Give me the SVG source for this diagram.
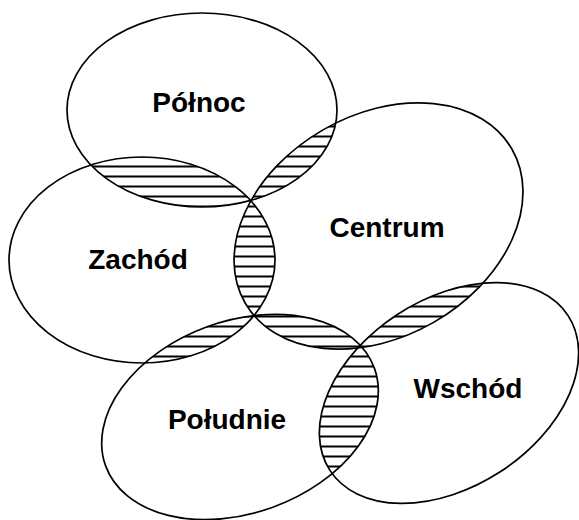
<svg xmlns="http://www.w3.org/2000/svg" xmlns:xlink="http://www.w3.org/1999/xlink" width="579" height="520" viewBox="0 0 579 520">
<style>
.outline{fill:none;stroke:#000;stroke-width:1.7}
.lens{fill:url(#hatch);stroke:none}
.lbl{font-family:"Liberation Sans",Arial,sans-serif;font-weight:bold;font-size:28px;fill:#000;text-anchor:middle}
</style>
<defs>
<pattern id="hatch" patternUnits="userSpaceOnUse" x="0" y="0" width="40" height="10">
<rect width="40" height="10" fill="#fff"/>
<line x1="0" y1="6.5" x2="40" y2="6.5" stroke="#000" stroke-width="2"/>
</pattern>
<ellipse id="eN" cx="202" cy="110" rx="135" ry="97"/>
<ellipse id="eZ" cx="142" cy="260" rx="133" ry="103"/>
<ellipse id="eC" cx="378.5" cy="226" rx="154" ry="111" transform="rotate(-30 378.5 226)"/>
<ellipse id="eP" cx="240" cy="417" rx="143" ry="96" transform="rotate(-20 240 417)"/>
<ellipse id="eW" cx="449" cy="393" rx="142" ry="94" transform="rotate(-33 449 393)"/>
<clipPath id="cN"><use xlink:href="#eN"/></clipPath>
<clipPath id="cZ"><use xlink:href="#eZ"/></clipPath>
<clipPath id="cC"><use xlink:href="#eC"/></clipPath>
<clipPath id="cP"><use xlink:href="#eP"/></clipPath>
<clipPath id="cW"><use xlink:href="#eW"/></clipPath>
<rect id="hfill" x="0" y="0" width="579" height="520" class="lens"/>
</defs>
<rect width="579" height="520" fill="#fff"/>
<g id="overlaps">
<g clip-path="url(#cN)"><g clip-path="url(#cZ)"><use xlink:href="#hfill"/></g></g>
<g clip-path="url(#cN)"><g clip-path="url(#cC)"><use xlink:href="#hfill"/></g></g>
<g clip-path="url(#cZ)"><g clip-path="url(#cC)"><use xlink:href="#hfill"/></g></g>
<g clip-path="url(#cZ)"><g clip-path="url(#cP)"><use xlink:href="#hfill"/></g></g>
<g clip-path="url(#cC)"><g clip-path="url(#cP)"><use xlink:href="#hfill"/></g></g>
<g clip-path="url(#cC)"><g clip-path="url(#cW)"><use xlink:href="#hfill"/></g></g>
<g clip-path="url(#cP)"><g clip-path="url(#cW)"><use xlink:href="#hfill"/></g></g>
</g>
<g id="polnoc"><use xlink:href="#eN" class="outline"/><text class="lbl" x="199" y="112">Północ</text></g>
<g id="zachod"><use xlink:href="#eZ" class="outline"/><text class="lbl" x="138" y="269">Zachód</text></g>
<g id="centrum"><use xlink:href="#eC" class="outline"/><text class="lbl" x="387" y="237">Centrum</text></g>
<g id="poludnie"><use xlink:href="#eP" class="outline"/><text class="lbl" x="227" y="429">Południe</text></g>
<g id="wschod"><use xlink:href="#eW" class="outline"/><text class="lbl" x="468" y="398">Wschód</text></g>
<g id="connectors"/>
</svg>
